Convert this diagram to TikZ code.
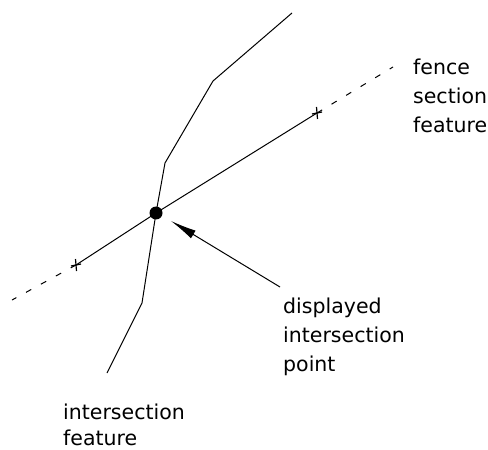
\documentclass[tikz,border=0pt]{standalone}
\usepackage{fontspec}
\setmainfont{DejaVu Sans}
\usetikzlibrary{arrows.meta}
\begin{document}
\begin{tikzpicture}[x=1bp,y=-1bp,
  feat/.style={line width=1bp,line join=round},
  fencedash/.style={line width=1bp,dash pattern=on 6bp off 11bp},
  label/.style={anchor=base west,inner sep=0pt,align=left,font=\fontsize{20.5bp}{29bp}\selectfont},
  crossmark/.style={line width=1.2bp}]
\useasboundingbox (0,0) rectangle (488,450);
% intersection feature polyline
\coordinate (i1) at (292,13);
\coordinate (i2) at (213,81);
\coordinate (i3) at (165,163);
\coordinate (ip) at (156,213);
\coordinate (i4) at (142,303);
\coordinate (i5) at (107,373);
\draw[feat] (i1) -- (i2) -- (i3) -- (ip) -- (i4) -- (i5);
% fence section feature
\coordinate (f0) at (12,300);
\coordinate (fa) at (76,265);
\coordinate (fb) at (317,113);
\coordinate (f1) at (393,67);
\draw[feat] (fa) -- (ip) -- (fb);
\draw[fencedash] (fa) -- (f0);
\draw[fencedash] (fb) -- (f1);
% vertex marks
\foreach \m in {fa,fb}{
  \draw[crossmark] ([shift={(-0.5,-6)}]\m) -- ([shift={(0.5,6)}]\m);
  \draw[crossmark] ([shift={(-5,1)}]\m) -- ([shift={(5,-1)}]\m);
}
% displayed intersection point
\node[circle,fill=black,inner sep=0pt,minimum size=13bp] (dot) at (ip) {};
% arrow
\coordinate (atail) at (280,287);
\coordinate (atip) at (171,221);
\draw[line width=1bp,-{Latex[length=26bp,width=9bp]}] (atail) -- (atip);
% labels (base anchor = baseline of the last line)
\node[label] (lfence) at (413,133) {fence\\section\\feature};
\node[label] (ldisp) at (283,371) {displayed\\intersection\\point};
\node[label,font=\fontsize{20.5bp}{26bp}\selectfont] (linter) at (63,445) {intersection\\feature};
\end{tikzpicture}
\end{document}
